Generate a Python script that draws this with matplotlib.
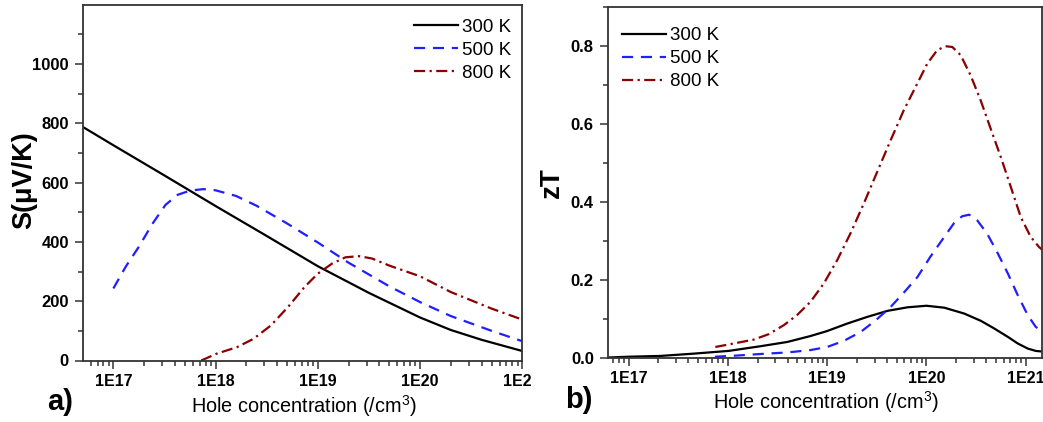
import numpy as np
import matplotlib
matplotlib.use("Agg")
import matplotlib.pyplot as plt
from matplotlib.ticker import FixedLocator, FuncFormatter, MultipleLocator
from matplotlib.transforms import Bbox, TransformedBbox

plt.rcParams['font.family'] = ['Liberation Sans', 'DejaVu Sans']
plt.rcParams['mathtext.fontset'] = 'custom'
plt.rcParams['mathtext.rm'] = 'Liberation Sans'

# panel a: Seebeck coefficient vs hole concentration (log10 of n)
a_log_300 = [16.70, 17.0, 17.5, 18.0, 18.5, 19.0, 19.5, 20.0, 20.3, 20.6, 21.0]
a_S_300 = [788, 726, 624, 521, 420, 318, 228, 145, 103, 70, 32]
a_log_500 = [17.0, 17.12, 17.25, 17.38, 17.51, 17.63, 17.75, 17.88, 18.0, 18.2, 18.4,
             18.7, 19.0, 19.3, 19.7, 20.0, 20.3, 20.7, 21.0]
a_S_500 = [243, 316, 384, 460, 525, 559, 573, 578, 574, 555, 522,
           462, 398, 330, 250, 197, 150, 100, 65]
a_log_800 = [17.86, 18.01, 18.21, 18.37, 18.54, 18.71, 18.87, 19.0, 19.14, 19.27, 19.40,
             19.53, 19.70, 20.0, 20.3, 20.7, 21.0]
a_S_800 = [0, 23, 45, 73, 118, 181, 248, 293, 327, 348, 352,
           344, 320, 284, 231, 175, 138]

# panel b: zT vs hole concentration
b_log_300 = [16.80, 17.0, 17.32, 17.66, 18.01, 18.33, 18.60, 18.83, 19.0, 19.20, 19.40,
             19.61, 19.81, 20.0, 20.18, 20.38, 20.55, 20.68, 20.82, 20.92, 21.02, 21.10, 21.18]
b_zt_300 = [0.000, 0.002, 0.004, 0.010, 0.017, 0.029, 0.040, 0.055, 0.068, 0.087, 0.104,
            0.120, 0.129, 0.133, 0.128, 0.113, 0.094, 0.075, 0.053, 0.036, 0.023, 0.017, 0.015]
b_log_500 = [17.87, 18.09, 18.33, 18.60, 18.83, 19.0, 19.17, 19.34, 19.50, 19.64, 19.77,
             19.91, 20.04, 20.18, 20.28, 20.36, 20.43, 20.51, 20.61, 20.71, 20.82, 20.92,
             21.02, 21.10, 21.18]
b_zt_500 = [0.002, 0.005, 0.009, 0.013, 0.019, 0.027, 0.043, 0.066, 0.098, 0.130, 0.166,
            0.207, 0.259, 0.310, 0.346, 0.363, 0.367, 0.353, 0.319, 0.272, 0.216, 0.160,
            0.109, 0.079, 0.063]
b_log_800 = [17.874, 18.059, 18.261, 18.412, 18.563, 18.697, 18.832, 18.966, 19.101, 19.235,
             19.370, 19.504, 19.639, 19.773, 19.908, 20.008, 20.109, 20.193, 20.261, 20.345,
             20.445, 20.546, 20.647, 20.748, 20.849, 20.950, 21.050, 21.134, 21.18]
b_zt_800 = [0.027, 0.036, 0.046, 0.060, 0.083, 0.109, 0.143, 0.190, 0.250, 0.319,
            0.396, 0.477, 0.558, 0.636, 0.704, 0.755, 0.790, 0.800, 0.798, 0.777,
            0.725, 0.661, 0.588, 0.516, 0.439, 0.361, 0.310, 0.284, 0.274]

labels = ['300 K', '500 K', '800 K']
colors = ['black', '#1f1fff', '#8b0000']
styles = ['-', (0, (5, 3.5)), (0, (5, 2, 1, 2))]

W, H = 1043, 422
fig = plt.figure(figsize=(W / 100, H / 100), dpi=100)

def px_axes(l, t, r, b):
    return fig.add_axes([l / W, 1 - b / H, (r - l) / W, (b - t) / H])

ax1 = px_axes(82.7, 5.3, 522.3, 360.5)
ax2 = px_axes(607.7, 7.3, 1042, 357.5)

for lg, yv, c, ls, lab in zip([a_log_300, a_log_500, a_log_800], [a_S_300, a_S_500, a_S_800],
                              colors, styles, labels):
    ax1.plot(10 ** np.array(lg), yv, color=c, ls=ls, lw=1.6, label=lab)
for lg, yv, c, ls, lab in zip([b_log_300, b_log_500, b_log_800], [b_zt_300, b_zt_500, b_zt_800],
                              colors, styles, labels):
    ax2.plot(10 ** np.array(lg), yv, color=c, ls=ls, lw=1.6, label=lab)

ax1.set_xlim(10 ** 16.70, 1e21)
ax1.set_ylim(0, 1198)
ax2.set_xlim(10 ** 16.79, 10 ** 21.164)
ax2.set_ylim(0, 0.9)

minors = [m * 10.0 ** e for e in range(16, 22) for m in range(2, 10)]
for ax in (ax1, ax2):
    ax.set_xscale('log')
    ax.xaxis.set_major_locator(FixedLocator([1e17, 1e18, 1e19, 1e20, 1e21]))
    ax.xaxis.set_minor_locator(FixedLocator(minors))
    ax.xaxis.set_major_formatter(FuncFormatter(lambda v, p: '1E%d' % round(np.log10(v))))
    ax.xaxis.set_minor_formatter(FuncFormatter(lambda v, p: ''))
    ax.tick_params(which='both', direction='out', top=False, right=False, width=1.1, color='#333')
    ax.tick_params(which='major', length=6, labelsize=11.5, pad=4)
    ax.tick_params(which='minor', length=3.5)
    for s in ax.spines.values():
        s.set_linewidth(1.3)
        s.set_color('#333')

ax1.yaxis.set_major_locator(MultipleLocator(200))
ax1.yaxis.set_minor_locator(MultipleLocator(100))
ax2.yaxis.set_major_locator(MultipleLocator(0.2))
ax2.yaxis.set_minor_locator(MultipleLocator(0.1))
ax2.yaxis.set_major_formatter(FuncFormatter(lambda v, p: '%.1f' % v))
for ax in (ax1, ax2):
    for lab in ax.get_xticklabels() + ax.get_yticklabels():
        lab.set_fontweight('bold')
    ax.tick_params(axis='y', which='major', labelsize=12)

leg_kw = dict(frameon=False, fontsize=13.5, handlelength=2.35, handletextpad=0.2,
              labelspacing=0.32, borderpad=0, borderaxespad=0, loc='upper left')
ax1.legend(bbox_to_anchor=(414 / W, 1 - 18.5 / H), bbox_transform=fig.transFigure, **leg_kw)
ax2.legend(bbox_to_anchor=(621.7 / W, 1 - 27 / H), bbox_transform=fig.transFigure, **leg_kw)

xlab = r'Hole concentration (/cm$^{3}$)'
fig.text(24 / W, 1 - 180 / H, 'S(μV/K)', rotation=90, ha='center', va='center',
         fontsize=19.5, fontweight='bold')
fig.text(552 / W, 1 - 183 / H, 'zT', rotation=90, ha='center', va='center',
         fontsize=20, fontweight='bold')
fig.text(303.5 / W, 1 - 412.5 / H, xlab, ha='center', va='baseline', fontsize=14.3)
fig.text(825.8 / W, 1 - 408.5 / H, xlab, ha='center', va='baseline', fontsize=14.3)
fig.text(47 / W, 1 - 410 / H, 'a)', ha='left', va='baseline', fontsize=21, fontweight='bold')
fig.text(565 / W, 1 - 408.5 / H, 'b)', ha='left', va='baseline', fontsize=21, fontweight='bold')

# the left panel was cut off at its right edge, so clip its last tick label
fig.canvas.draw()
clip = TransformedBbox(Bbox.from_extents(0, 0, 531 / W, 1), fig.transFigure)
for lab in ax1.get_xticklabels():
    lab.set_clip_box(clip)
    lab.set_clip_on(True)

fig.savefig('out.png', dpi=100)
